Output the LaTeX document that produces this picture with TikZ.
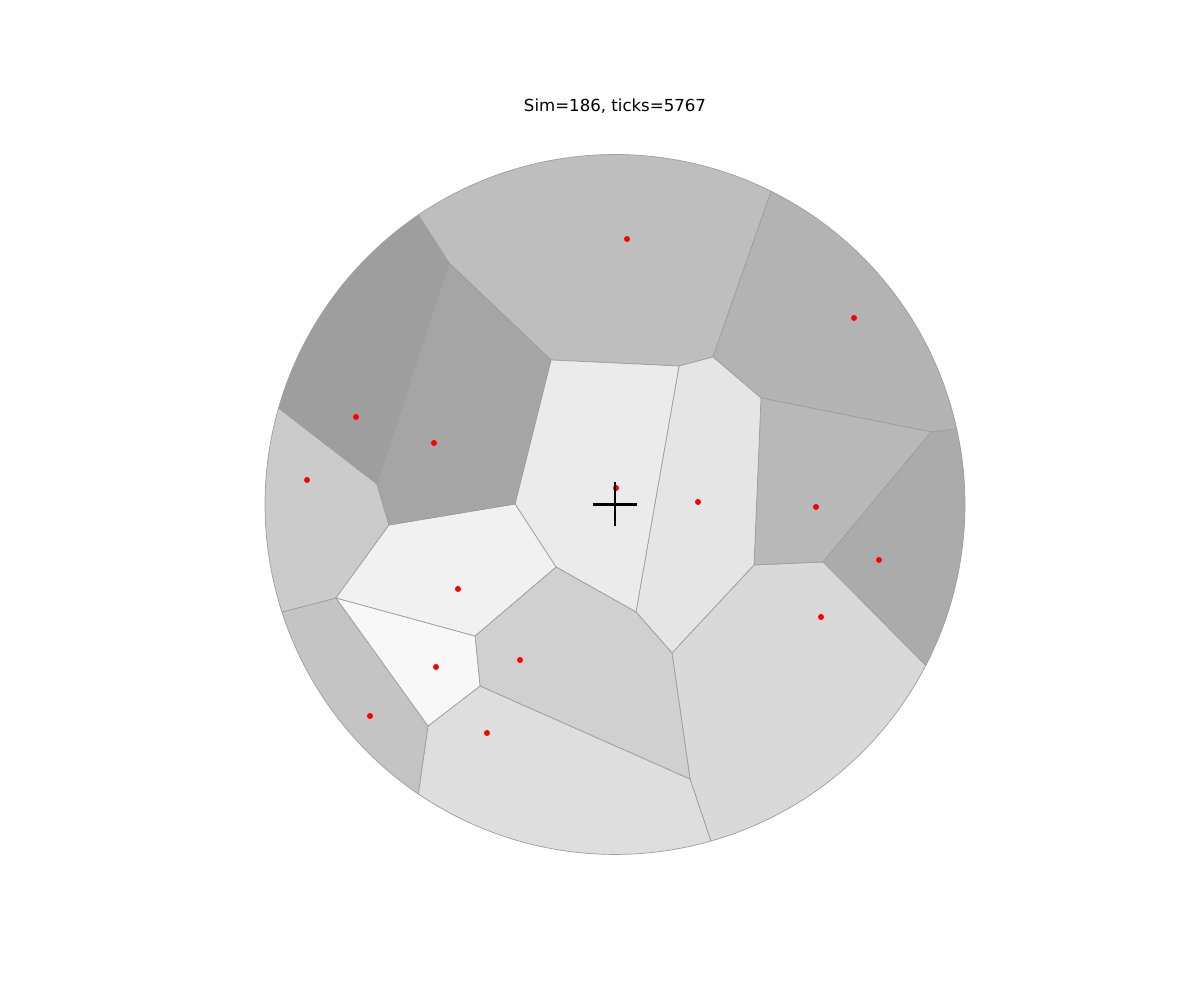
\documentclass[tikz,border=0pt]{standalone}
\usepackage{fontspec}
\setmainfont{DejaVu Sans}
\usetikzlibrary{calc}
\usepackage{xcolor}

\definecolor{cTop}{HTML}{BEBEBE}
\definecolor{cTopR}{HTML}{B3B3B3}
\definecolor{cMidR}{HTML}{B8B8B8}
\definecolor{cDarkR}{HTML}{ABABAB}
\definecolor{cBotR}{HTML}{D9D9D9}
\definecolor{cCenR}{HTML}{E5E5E5}
\definecolor{cCen}{HTML}{EBEBEB}
\definecolor{cBotC}{HTML}{D0D0D0}
\definecolor{cBot}{HTML}{DEDEDE}
\definecolor{cBotL}{HTML}{C4C4C4}
\definecolor{cPale}{HTML}{F8F8F8}
\definecolor{cLight}{HTML}{F1F1F1}
\definecolor{cLeft}{HTML}{CBCBCB}
\definecolor{cDarkL}{HTML}{9E9E9E}
\definecolor{cMidL}{HTML}{A5A5A5}

\begin{document}
\begin{tikzpicture}[cell/.style={draw=black!38, line width=0.2pt}]
  \useasboundingbox (0,0) rectangle (12,10);

  % Disk and Voronoi vertices
  \coordinate (ctr) at (6.15, 4.955);
  \def\R{3.5}
  \coordinate (A) at (4.49, 7.37);
  \coordinate (B) at (5.51, 6.40);
  \coordinate (C) at (6.79, 6.34);
  \coordinate (D) at (7.13, 6.43);
  \coordinate (E) at (7.61, 6.02);
  \coordinate (F) at (9.31, 5.68);
  \coordinate (G) at (8.23, 4.38);
  \coordinate (H) at (7.54, 4.35);
  \coordinate (I) at (6.72, 3.47);
  \coordinate (J) at (6.36, 3.88);
  \coordinate (K) at (5.56, 4.33);
  \coordinate (L) at (5.15, 4.96);
  \coordinate (M) at (3.89, 4.75);
  \coordinate (N) at (3.77, 5.16);
  \coordinate (O) at (3.36, 4.02);
  \coordinate (P) at (4.75, 3.64);
  \coordinate (Q) at (4.80, 3.14);
  \coordinate (Rv) at (4.28, 2.74);
  \coordinate (S) at (6.90, 2.21);

  % Points on the boundary circle
  \coordinate (b1) at ($(ctr)+(124.2:\R)$);
  \coordinate (b2) at ($(ctr)+(63.5:\R)$);
  \coordinate (b3) at ($(ctr)+(12.45:\R)$);
  \coordinate (b4) at ($(ctr)+(-27.4:\R)$);
  \coordinate (b5) at ($(ctr)+(-74.1:\R)$);
  \coordinate (b6) at ($(ctr)+(-124.2:\R)$);
  \coordinate (b7) at ($(ctr)+(-162.1:\R)$);
  \coordinate (b8) at ($(ctr)+(164:\R)$);

  % Outer cells
  \fill[cTop, cell] (A) -- (b1) arc[start angle=124.2, end angle=63.5, radius=\R] -- (D) -- (C) -- (B) -- cycle;
  \fill[cTopR, cell] (D) -- (b2) arc[start angle=63.5, end angle=12.45, radius=\R] -- (F) -- (E) -- cycle;
  \fill[cDarkR, cell] (F) -- (b3) arc[start angle=12.45, end angle=-27.4, radius=\R] -- (G) -- cycle;
  \fill[cBotR, cell] (G) -- (b4) arc[start angle=-27.4, end angle=-74.1, radius=\R] -- (S) -- (I) -- (H) -- cycle;
  \fill[cBot, cell] (S) -- (b5) arc[start angle=-74.1, end angle=-124.2, radius=\R] -- (Rv) -- (Q) -- cycle;
  \fill[cBotL, cell] (Rv) -- (b6) arc[start angle=-124.2, end angle=-162.1, radius=\R] -- (O) -- cycle;
  \fill[cLeft, cell] (O) -- (b7) arc[start angle=197.9, end angle=164, radius=\R] -- (N) -- (M) -- cycle;
  \fill[cDarkL, cell] (N) -- (b8) arc[start angle=164, end angle=124.2, radius=\R] -- (A) -- cycle;

  % Inner cells
  \fill[cMidR, cell] (E) -- (F) -- (G) -- (H) -- cycle;
  \fill[cCenR, cell] (C) -- (D) -- (E) -- (H) -- (I) -- (J) -- cycle;
  \fill[cCen, cell] (B) -- (C) -- (J) -- (K) -- (L) -- cycle;
  \fill[cBotC, cell] (K) -- (J) -- (I) -- (S) -- (Q) -- (P) -- cycle;
  \fill[cPale, cell] (O) -- (P) -- (Q) -- (Rv) -- cycle;
  \fill[cLight, cell] (M) -- (L) -- (K) -- (P) -- (O) -- cycle;
  \fill[cMidL, cell] (A) -- (B) -- (L) -- (M) -- (N) -- cycle;

  % Sites
  \foreach \p in {(6.27,7.61), (8.54,6.82), (3.56,5.83), (4.34,5.57), (3.07,5.20),
                  (6.16,5.12), (6.98,4.98), (8.16,4.93), (8.79,4.40), (8.21,3.83),
                  (4.58,4.11), (5.20,3.40), (4.36,3.33), (3.70,2.84), (4.87,2.67)}
    \fill[red] \p circle (0.03);

  % Cross at the centre
  \draw[line width=0.6pt] ($(ctr)+(-0.22,0)$) -- ($(ctr)+(0.22,0)$);
  \draw[line width=0.6pt] ($(ctr)+(0,-0.22)$) -- ($(ctr)+(0,0.22)$);

  \node (title) at (6.15, 8.94) {\fontsize{4.72}{5.7}\selectfont Sim=186, ticks=5767};
\end{tikzpicture}
\end{document}
